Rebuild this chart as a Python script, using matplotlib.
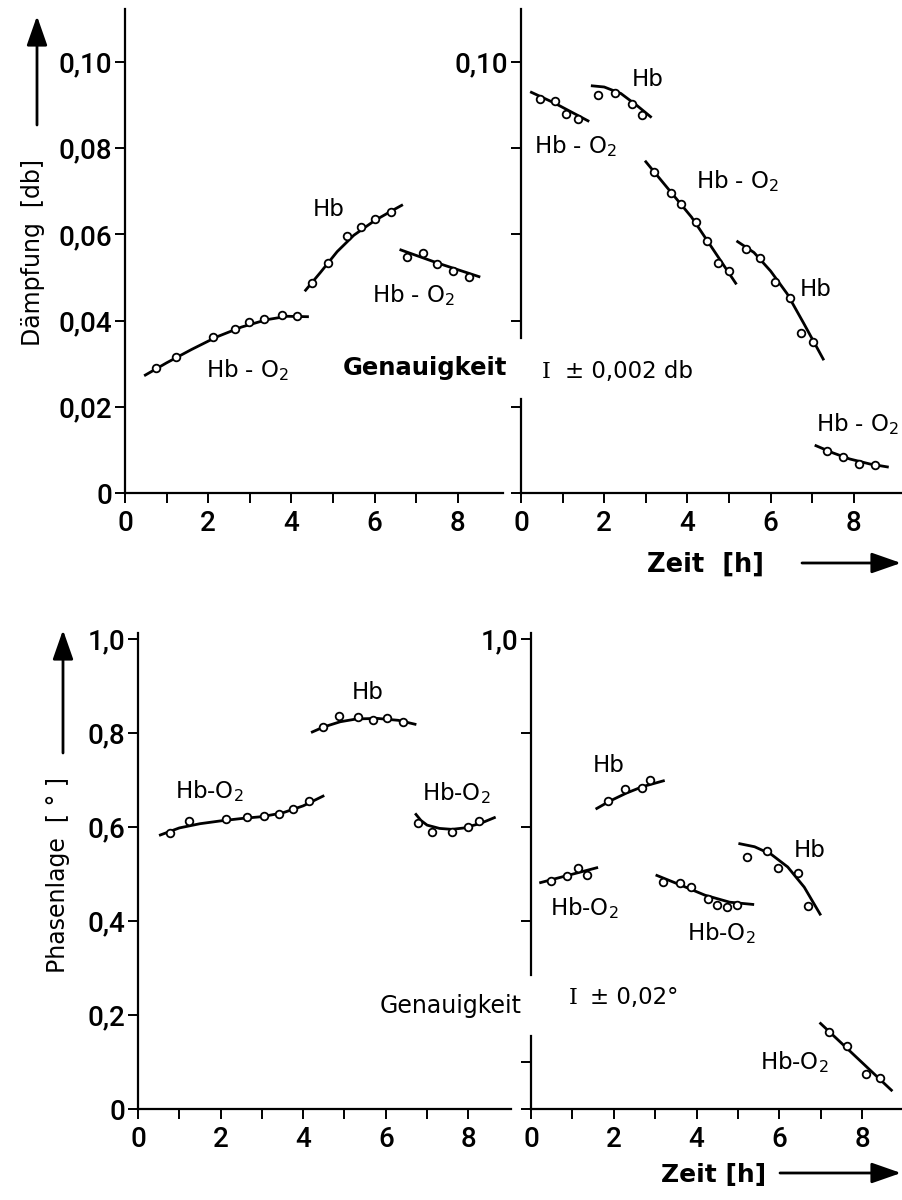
import matplotlib
matplotlib.use("Agg")
import matplotlib.pyplot as plt
from matplotlib.patches import FancyArrowPatch

plt.rcParams['font.family'] = ['DejaVu Sans']
plt.rcParams['mathtext.fontset'] = 'dejavusans'

TICKFONT = ['Roboto', 'DejaVu Sans']

# ---------------- data ----------------
# top left: Daempfung, first run
tl_hbo2a_x = [0.74, 1.22, 2.12, 2.65, 2.98, 3.34, 3.77, 4.14]
tl_hbo2a_y = [0.0291, 0.0316, 0.0362, 0.0381, 0.0397, 0.0404, 0.0412, 0.0410]
tl_hbo2a_cx = [0.46, 1.0, 1.6, 2.2, 2.8, 3.4, 3.9, 4.42]
tl_hbo2a_cy = [0.0272, 0.0302, 0.0333, 0.0362, 0.0385, 0.0402, 0.0410, 0.0409]
tl_hb_x = [4.50, 4.88, 5.33, 5.68, 6.01, 6.40]
tl_hb_y = [0.0488, 0.0534, 0.0596, 0.0617, 0.0636, 0.0652]
tl_hb_cx = [4.32, 4.7, 5.1, 5.5, 6.0, 6.4, 6.68]
tl_hb_cy = [0.0468, 0.0512, 0.0560, 0.0598, 0.0632, 0.0654, 0.0669]
tl_hbo2b_x = [6.77, 7.17, 7.50, 7.89, 8.26]
tl_hbo2b_y = [0.0548, 0.0556, 0.0531, 0.0515, 0.0502]
tl_hbo2b_cx = [6.60, 7.5, 8.54]
tl_hbo2b_cy = [0.0565, 0.0534, 0.0501]

# top right: Daempfung, second run
tr_hbo2a_x = [0.46, 0.82, 1.08, 1.36]
tr_hbo2a_y = [0.0913, 0.0909, 0.0880, 0.0867]
tr_hbo2a_cx = [0.22, 0.8, 1.64]
tr_hbo2a_cy = [0.0931, 0.0905, 0.0862]
tr_hba_x = [1.86, 2.26, 2.66, 2.90]
tr_hba_y = [0.0924, 0.0929, 0.0902, 0.0877]
tr_hba_cx = [1.68, 2.0, 2.4, 2.8, 3.14]
tr_hba_cy = [0.0945, 0.0942, 0.0927, 0.0898, 0.0871]
tr_hbo2b_x = [3.20, 3.60, 3.84, 4.20, 4.48, 4.74, 5.00]
tr_hbo2b_y = [0.0744, 0.0696, 0.0671, 0.0629, 0.0584, 0.0533, 0.0516]
tr_hbo2b_cx = [2.98, 4.1, 5.18]
tr_hbo2b_cy = [0.0771, 0.0640, 0.0484]
tr_hbb_x = [5.42, 5.74, 6.10, 6.46, 6.74, 7.02]
tr_hbb_y = [0.0566, 0.0545, 0.0489, 0.0453, 0.0371, 0.0351]
tr_hbb_cx = [5.18, 5.6, 6.0, 6.4, 6.8, 7.28]
tr_hbb_cy = [0.0585, 0.0558, 0.0515, 0.0462, 0.0393, 0.0308]
tr_hbo2c_x = [7.36, 7.74, 8.12, 8.52]
tr_hbo2c_y = [0.0098, 0.0084, 0.0068, 0.0065]
tr_hbo2c_cx = [7.06, 7.5, 7.9, 8.4, 8.84]
tr_hbo2c_cy = [0.0111, 0.0093, 0.0079, 0.0067, 0.0060]

# bottom left: Phasenlage, first run
bl_hbo2a_x = [0.78, 1.23, 2.14, 2.64, 3.04, 3.41, 3.75, 4.13]
bl_hbo2a_y = [0.588, 0.612, 0.616, 0.621, 0.623, 0.627, 0.639, 0.655]
bl_hbo2a_cx = [0.51, 1.0, 1.5, 2.0, 2.5, 3.0, 3.5, 4.0, 4.51]
bl_hbo2a_cy = [0.582, 0.598, 0.607, 0.613, 0.618, 0.622, 0.630, 0.645, 0.667]
bl_hb_x = [4.47, 4.86, 5.32, 5.70, 6.03, 6.41]
bl_hb_y = [0.812, 0.836, 0.834, 0.827, 0.831, 0.823]
bl_hb_cx = [4.19, 4.5, 4.9, 5.3, 5.8, 6.3, 6.74]
bl_hb_cy = [0.801, 0.813, 0.824, 0.830, 0.831, 0.827, 0.818]
bl_hbo2b_x = [6.79, 7.13, 7.61, 7.98, 8.26]
bl_hbo2b_y = [0.609, 0.589, 0.590, 0.599, 0.613]
bl_hbo2b_cx = [6.71, 6.85, 7.0, 7.3, 7.6, 7.9, 8.3, 8.66]
bl_hbo2b_cy = [0.629, 0.614, 0.604, 0.597, 0.595, 0.598, 0.608, 0.621]

# bottom right: Phasenlage, second run
br_hbo2a_x = [0.48, 0.86, 1.14, 1.35]
br_hbo2a_y = [0.485, 0.496, 0.512, 0.498]
br_hbo2a_cx = [0.20, 1.62]
br_hbo2a_cy = [0.481, 0.514]
br_hba_x = [1.86, 2.27, 2.67, 2.87]
br_hba_y = [0.656, 0.681, 0.682, 0.699]
br_hba_cx = [1.56, 1.9, 2.3, 2.7, 3.23]
br_hba_cy = [0.638, 0.655, 0.672, 0.686, 0.699]
br_hbo2b_x = [3.18, 3.59, 3.87, 4.27, 4.49, 4.73, 4.97]
br_hbo2b_y = [0.482, 0.480, 0.472, 0.446, 0.434, 0.429, 0.435]
br_hbo2b_cx = [3.01, 3.6, 4.2, 4.8, 5.39]
br_hbo2b_cy = [0.498, 0.477, 0.455, 0.440, 0.435]
br_hbb_x = [5.21, 5.71, 5.97, 6.45, 6.69]
br_hbb_y = [0.536, 0.550, 0.512, 0.502, 0.431]
br_hbb_cx = [5.01, 5.4, 5.8, 6.2, 6.6, 7.0]
br_hbb_cy = [0.565, 0.558, 0.542, 0.515, 0.472, 0.412]
br_hbo2c_x = [7.20, 7.63, 8.08, 8.44]
br_hbo2c_y = [0.164, 0.135, 0.075, 0.066]
br_hbo2c_cx = [6.97, 8.73]
br_hbo2c_cy = [0.184, 0.038]

db_ticks = [0, 0.02, 0.04, 0.06, 0.08, 0.10]
db_labels = ['0', '0,02', '0,04', '0,06', '0,08', '0,10']
ph_ticks = [0, 0.2, 0.4, 0.6, 0.8, 1.0]
ph_labels = ['0', '0,2', '0,4', '0,6', '0,8', '1,0']
ph_ticks_right = [0, 0.1, 0.4, 0.6, 0.8, 1.0]
x_ticks = [0, 1, 2, 3, 4, 5, 6, 7, 8]
x_ticks_br = [0, 1, 2, 3, 4, 5, 6, 7, 8, 9]
x_labels = ['0', '', '2', '', '4', '', '6', '', '8']
x_labels_br = ['0', '', '2', '', '4', '', '6', '', '8', '']

HBO2 = 'Hb - O$_2$'
HBO2b = 'Hb-O$_2$'

# ---------------- figure ----------------
W, H = 903, 1200
fig = plt.figure(figsize=(W / 100, H / 100), dpi=100)


def px_axes(x0, y0, w, h):
    # rectangle given in image pixels (top-left origin)
    return fig.add_axes([x0 / W, 1 - (y0 + h) / H, w / W, h / H])


LW = 1.6


def style(ax, xmax, ymax, yticks, ylabels, xt, xl):
    ax.set_xlim(0, xmax)
    ax.set_ylim(0, ymax)
    for s in ['top', 'right']:
        ax.spines[s].set_visible(False)
    for s in ['left', 'bottom']:
        ax.spines[s].set_linewidth(LW)
    ax.set_xticks(xt)
    ax.set_xticklabels(xl)
    ax.set_yticks(yticks)
    ax.set_yticklabels(ylabels)
    ax.tick_params(axis='both', direction='out', length=7, width=1.4,
                   labelsize=20)
    ax.tick_params(axis='x', pad=5)
    ax.tick_params(axis='y', pad=2)
    for t in ax.get_xticklabels() + ax.get_yticklabels():
        t.set_family(TICKFONT)
        t.set_fontweight('medium')
    ax.patch.set_alpha(0)


def broken_axis(ax, lower_top, upper_bottom, ymax):
    ax.spines['left'].set_visible(False)
    ax.plot([0, 0], [0, lower_top], color='k', lw=LW, clip_on=False)
    ax.plot([0, 0], [upper_bottom, ymax], color='k', lw=LW, clip_on=False)


def series(ax, mx, my, cx, cy):
    ax.plot(cx, cy, color='k', lw=2.0, clip_on=False, solid_capstyle='butt',
            solid_joinstyle='round')
    ax.plot(mx, my, 'o', ms=5.5, mfc='white', mec='k', mew=1.3, clip_on=False)


def lab(ax, x, y, s):
    ax.text(x, y, s, fontsize=16.5, ha='center', va='center')


# top left
DB_MAX = 0.1122
ax1 = px_axes(125, 493 - DB_MAX * 4310, 9.08 * 41.6, DB_MAX * 4310)
style(ax1, 9.08, DB_MAX, db_ticks, db_labels, x_ticks, x_labels)
series(ax1, tl_hbo2a_x, tl_hbo2a_y, tl_hbo2a_cx, tl_hbo2a_cy)
series(ax1, tl_hb_x, tl_hb_y, tl_hb_cx, tl_hb_cy)
series(ax1, tl_hbo2b_x, tl_hbo2b_y, tl_hbo2b_cx, tl_hbo2b_cy)
lab(ax1, 4.90, 0.0658, 'Hb')
lab(ax1, 6.94, 0.0459, HBO2)
lab(ax1, 2.94, 0.0286, HBO2)
ax1.text(5.24, 0.0273, 'Genauigkeit', fontsize=17.5, fontweight='bold',
         ha='left', va='baseline', clip_on=False)

# top right
ax2 = px_axes(521, 493 - DB_MAX * 4310, 9.2 * 41.6, DB_MAX * 4310)
style(ax2, 9.2, DB_MAX, db_ticks, ['', '', '', '', '', '0,10'], x_ticks, x_labels)
broken_axis(ax2, 0.0218, 0.036, DB_MAX)
series(ax2, tr_hbo2a_x, tr_hbo2a_y, tr_hbo2a_cx, tr_hbo2a_cy)
series(ax2, tr_hba_x, tr_hba_y, tr_hba_cx, tr_hba_cy)
series(ax2, tr_hbo2b_x, tr_hbo2b_y, tr_hbo2b_cx, tr_hbo2b_cy)
series(ax2, tr_hbb_x, tr_hbb_y, tr_hbb_cx, tr_hbb_cy)
series(ax2, tr_hbo2c_x, tr_hbo2c_y, tr_hbo2c_cx, tr_hbo2c_cy)
lab(ax2, 3.04, 0.0960, 'Hb')
lab(ax2, 1.32, 0.0804, HBO2)
lab(ax2, 5.20, 0.0724, HBO2)
lab(ax2, 7.08, 0.0471, 'Hb')
lab(ax2, 8.08, 0.0160, HBO2)
ax2.text(0.50, 0.0267, 'I', family='DejaVu Serif', fontsize=16,
         ha='left', va='baseline')
ax2.text(1.06, 0.0267, '± 0,002 db', fontsize=16.5, ha='left', va='baseline')

# bottom left
PH_MAX = 1.013
ax3 = px_axes(138, 1109 - PH_MAX * 470, 9.03 * 41.3, PH_MAX * 470)
style(ax3, 9.03, PH_MAX, ph_ticks, ph_labels, x_ticks, x_labels)
series(ax3, bl_hbo2a_x, bl_hbo2a_y, bl_hbo2a_cx, bl_hbo2a_cy)
series(ax3, bl_hb_x, bl_hb_y, bl_hb_cx, bl_hb_cy)
series(ax3, bl_hbo2b_x, bl_hbo2b_y, bl_hbo2b_cx, bl_hbo2b_cy)
lab(ax3, 5.56, 0.886, 'Hb')
lab(ax3, 1.73, 0.676, HBO2b)
lab(ax3, 7.70, 0.672, HBO2b)
ax3.text(5.86, 0.205, 'Genauigkeit', fontsize=17, ha='left',
         va='baseline', clip_on=False)

# bottom right
ax4 = px_axes(531, 1109 - PH_MAX * 470, 9.05 * 41.4, PH_MAX * 470)
style(ax4, 9.05, PH_MAX, ph_ticks_right, ['', '', '', '', '', '1,0'],
      x_ticks_br, x_labels_br)
broken_axis(ax4, 0.155, 0.285, PH_MAX)
series(ax4, br_hbo2a_x, br_hbo2a_y, br_hbo2a_cx, br_hbo2a_cy)
series(ax4, br_hba_x, br_hba_y, br_hba_cx, br_hba_cy)
series(ax4, br_hbo2b_x, br_hbo2b_y, br_hbo2b_cx, br_hbo2b_cy)
series(ax4, br_hbb_x, br_hbb_y, br_hbb_cx, br_hbb_cy)
series(ax4, br_hbo2c_x, br_hbo2c_y, br_hbo2c_cx, br_hbo2c_cy)
lab(ax4, 1.88, 0.731, 'Hb')
lab(ax4, 1.28, 0.427, HBO2b)
lab(ax4, 4.60, 0.374, HBO2b)
lab(ax4, 6.73, 0.550, 'Hb')
lab(ax4, 6.37, 0.099, HBO2b)
ax4.text(0.90, 0.224, 'I', family='DejaVu Serif', fontsize=16,
         ha='left', va='baseline')
ax4.text(1.42, 0.224, '± 0,02°', fontsize=16.5, ha='left', va='baseline')

# axis titles with arrows
fig.text(33 / W, 1 - 253 / H, 'Dämpfung  [db]', rotation=90, fontsize=17,
         ha='center', va='center')
fig.text(58 / W, 1 - 875 / H, 'Phasenlage  [ ° ]', rotation=90, fontsize=17,
         ha='center', va='center')
fig.text(706 / W, 1 - 565 / H, 'Zeit  [h]', fontsize=18.5, fontweight='bold',
         ha='center', va='center')
fig.text(714 / W, 1 - 1175 / H, 'Zeit [h]', fontsize=18, fontweight='bold',
         ha='center', va='center')

arrow = dict(arrowstyle='-|>,head_length=1.0,head_width=0.35', lw=2,
             color='k', shrinkA=0, shrinkB=0, mutation_scale=18)
for (xa, ya, xb, yb) in [(37, 125, 37, 16), (63, 753, 63, 630),
                         (802, 563, 901, 563), (780, 1173, 901, 1173)]:
    fig.add_artist(FancyArrowPatch((xa / W, 1 - ya / H), (xb / W, 1 - yb / H),
                                   transform=fig.transFigure, **arrow))

fig.savefig('out.png', dpi=100)
